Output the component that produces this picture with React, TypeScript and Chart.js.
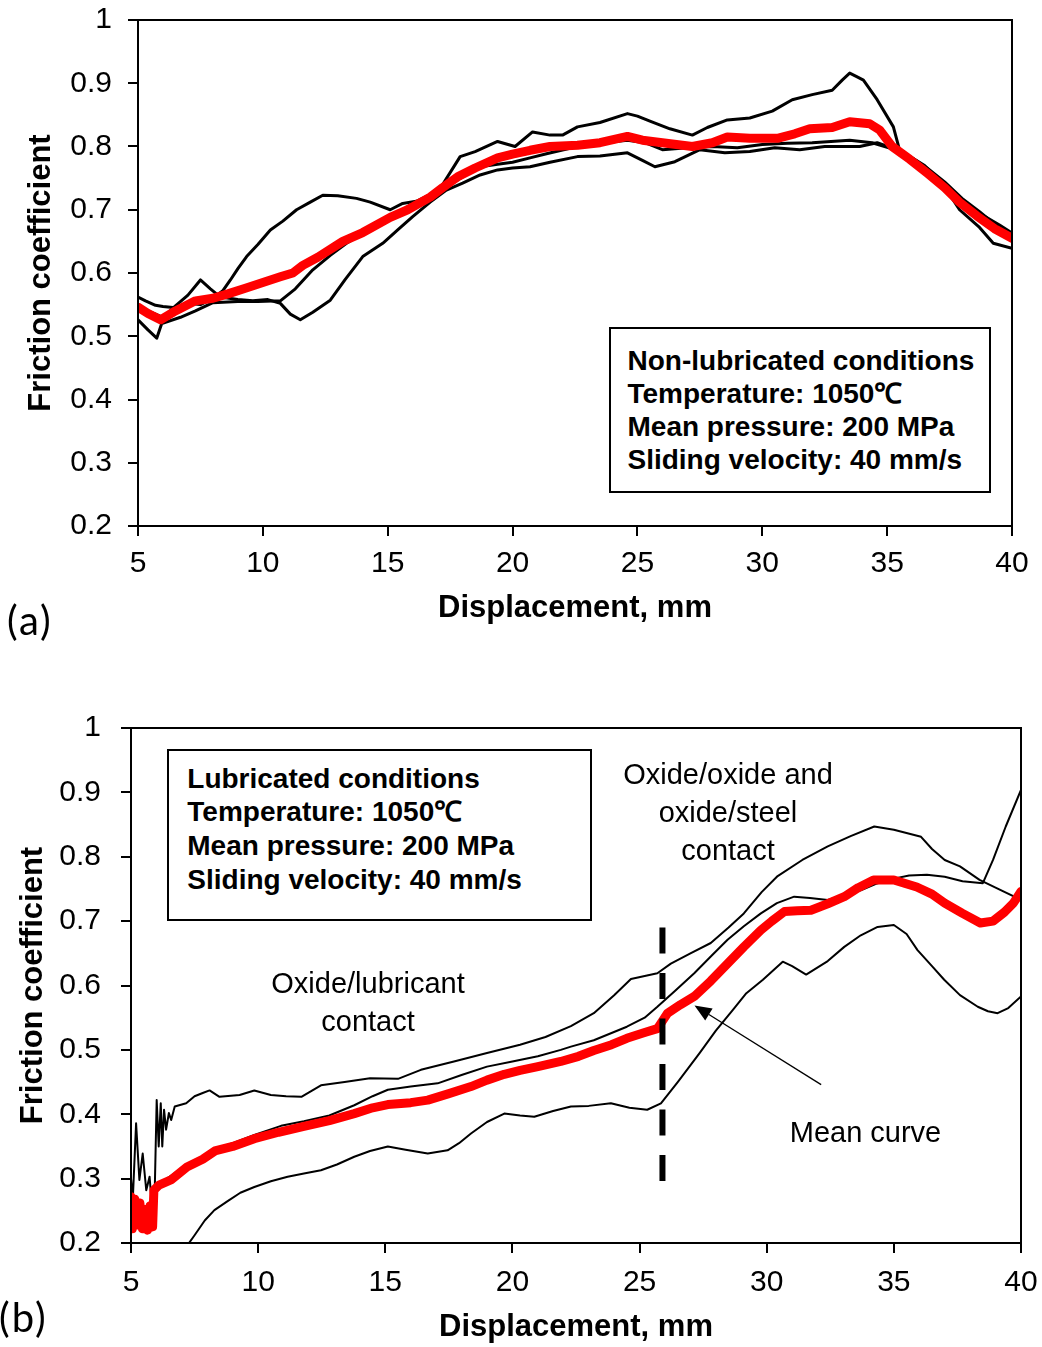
import React, { useEffect, useRef } from "react";
import { Chart, registerables } from "chart.js";

Chart.register(...registerables);

const FONT = "'Liberation Sans', Arial, Helvetica, sans-serif";

// ---------- axes ----------
const xTickValues = [5, 10, 15, 20, 25, 30, 35, 40];
const xTickLabels = ["5", "10", "15", "20", "25", "30", "35", "40"];
const yTickValues = [0.2, 0.3, 0.4, 0.5, 0.6, 0.7, 0.8, 0.9, 1.0];
const yTickLabels = ["0.2", "0.3", "0.4", "0.5", "0.6", "0.7", "0.8", "0.9", "1"];
const xTitle = "Displacement, mm";
const yTitle = "Friction coefficient";

// ---------- (a) non-lubricated ----------
const aMeanX = [5.0, 5.4, 5.9, 6.5, 7.3, 8.0, 8.6, 9.3, 10.0, 10.7, 11.2, 11.6, 12.2, 13.2, 14.0, 15.1, 15.8, 16.7, 17.2, 17.8, 18.5, 19.4, 20.0, 20.7, 21.5, 22.6, 23.5, 24.6, 25.2, 26.0, 27.2, 28.0, 28.6, 29.5, 30.6, 31.3, 31.9, 32.8, 33.5, 34.3, 34.7, 35.2, 35.9, 36.6, 37.3, 37.9, 38.6, 39.3, 40.0];
const aMeanY = [0.546, 0.536, 0.526, 0.540, 0.556, 0.560, 0.567, 0.576, 0.585, 0.594, 0.600, 0.612, 0.625, 0.650, 0.664, 0.688, 0.700, 0.720, 0.735, 0.752, 0.766, 0.782, 0.788, 0.794, 0.800, 0.802, 0.806, 0.816, 0.810, 0.806, 0.800, 0.806, 0.815, 0.813, 0.813, 0.820, 0.828, 0.830, 0.839, 0.836, 0.826, 0.800, 0.780, 0.758, 0.735, 0.712, 0.690, 0.670, 0.655];

const aRun1X = [5.0, 5.3, 5.7, 6.0, 6.5, 7.0, 7.5, 8.0, 8.4, 8.7, 9.0, 9.35, 9.8, 10.3, 10.8, 11.35, 11.9, 12.4, 13.0, 13.75, 14.3, 15.1, 15.6, 16.2, 16.7, 17.2, 17.6, 17.9, 18.5, 19.4, 20.1, 20.8, 21.5, 22.0, 22.6, 23.5, 24.6, 25.0, 25.5, 26.3, 27.2, 27.8, 28.6, 29.5, 30.4, 31.2, 32.0, 32.8, 33.2, 33.5, 33.8, 34.05, 34.6, 35.25, 35.5, 36.0, 36.6, 37.3, 38.0, 38.8, 39.5, 40.0];
const aRun1Y = [0.562, 0.556, 0.549, 0.547, 0.545, 0.552, 0.550, 0.560, 0.572, 0.589, 0.607, 0.626, 0.645, 0.668, 0.682, 0.700, 0.712, 0.723, 0.722, 0.718, 0.712, 0.700, 0.710, 0.714, 0.723, 0.740, 0.765, 0.784, 0.792, 0.808, 0.800, 0.823, 0.818, 0.818, 0.831, 0.838, 0.852, 0.848, 0.840, 0.828, 0.818, 0.830, 0.842, 0.845, 0.856, 0.874, 0.882, 0.889, 0.905, 0.916, 0.910, 0.905, 0.874, 0.831, 0.794, 0.780, 0.760, 0.738, 0.714, 0.692, 0.676, 0.663];

const aRun2X = [5.0, 5.4, 6.0, 6.5, 7.0, 7.5, 7.9, 8.3, 9.0, 9.6, 10.2, 10.7, 11.1, 11.5, 12.0, 12.7, 13.3, 14.0, 14.8, 15.4, 16.0, 16.7, 17.35, 18.0, 18.7, 19.4, 20.0, 20.7, 21.5, 22.6, 23.5, 24.6, 25.2, 25.7, 26.5, 27.5, 28.5, 29.5, 30.5, 31.5, 32.5, 33.9, 34.6, 35.3, 36.0, 36.5, 37.2, 37.9, 38.7, 39.25, 40.0];
const aRun2Y = [0.550, 0.540, 0.530, 0.548, 0.565, 0.589, 0.575, 0.562, 0.558, 0.556, 0.558, 0.552, 0.535, 0.526, 0.538, 0.557, 0.590, 0.626, 0.647, 0.668, 0.689, 0.712, 0.731, 0.742, 0.755, 0.763, 0.766, 0.768, 0.775, 0.784, 0.785, 0.790, 0.778, 0.768, 0.776, 0.795, 0.790, 0.792, 0.798, 0.795, 0.800, 0.800, 0.806, 0.796, 0.782, 0.770, 0.742, 0.700, 0.672, 0.647, 0.639];

const aRun3X = [5.0, 5.4, 5.75, 5.95, 6.7, 7.3, 8.0, 9.0, 9.8, 10.7, 11.3, 12.0, 12.7, 13.35, 14.0, 14.7, 15.4, 16.0, 16.9, 17.8, 18.7, 19.4, 20.0, 20.7, 21.4, 22.6, 23.5, 24.6, 25.3, 26.0, 27.0, 28.0, 29.0, 30.0, 31.0, 32.0, 33.5, 34.4, 35.3, 36.0, 36.6, 37.3, 38.0, 38.7, 39.4, 40.0];
const aRun3Y = [0.526, 0.510, 0.497, 0.520, 0.530, 0.540, 0.553, 0.555, 0.555, 0.556, 0.575, 0.605, 0.628, 0.647, 0.662, 0.678, 0.695, 0.710, 0.728, 0.747, 0.768, 0.772, 0.775, 0.782, 0.789, 0.800, 0.805, 0.810, 0.806, 0.795, 0.798, 0.800, 0.798, 0.803, 0.805, 0.806, 0.810, 0.806, 0.795, 0.782, 0.766, 0.744, 0.718, 0.697, 0.674, 0.652];

// ---------- (b) lubricated ----------
const bMeanX = [5.0, 5.05, 5.15, 5.25, 5.35, 5.45, 5.55, 5.65, 5.75, 5.85, 5.9, 6.1, 6.57, 7.2, 7.82, 8.3, 9.0, 9.85, 10.8, 11.8, 12.8, 13.78, 14.5, 15.1, 16.0, 16.67, 17.5, 18.37, 19.0, 19.68, 20.3, 21.0, 21.9, 22.6, 23.2, 23.9, 24.5, 25.2, 25.7, 26.1, 26.6, 27.15, 27.8, 28.46, 29.1, 29.77, 30.2, 30.7, 31.2, 31.74, 32.4, 33.05, 33.6, 34.2, 35.0, 35.9, 36.5, 37.0, 37.7, 38.4, 38.9, 39.35, 39.7, 40.0];
const bMeanY = [0.272, 0.222, 0.268, 0.228, 0.262, 0.222, 0.252, 0.220, 0.258, 0.225, 0.282, 0.290, 0.298, 0.318, 0.330, 0.343, 0.350, 0.362, 0.372, 0.381, 0.390, 0.401, 0.410, 0.415, 0.418, 0.422, 0.432, 0.443, 0.453, 0.462, 0.468, 0.474, 0.482, 0.490, 0.499, 0.508, 0.518, 0.527, 0.533, 0.557, 0.570, 0.583, 0.607, 0.634, 0.660, 0.686, 0.700, 0.715, 0.716, 0.717, 0.727, 0.738, 0.752, 0.764, 0.764, 0.753, 0.742, 0.728, 0.712, 0.697, 0.700, 0.714, 0.728, 0.746];

const bRun1X = [5.0, 5.07, 5.2, 5.33, 5.46, 5.6, 5.73, 5.82, 5.92, 6.01, 6.09, 6.17, 6.23, 6.3, 6.38, 6.49, 6.58, 6.72, 7.17, 7.5, 7.82, 8.09, 8.48, 9.27, 9.85, 10.5, 11.1, 11.7, 12.47, 13.4, 14.4, 15.5, 16.4, 17.7, 19.0, 20.3, 21.3, 22.3, 23.2, 24.0, 24.66, 25.7, 26.23, 27.0, 27.8, 28.5, 29.1, 29.8, 30.43, 31.4, 32.4, 33.3, 34.23, 35.0, 36.07, 36.5, 37.0, 37.6, 38.37, 39.0, 40.0];
const bRun1Y = [0.300, 0.267, 0.386, 0.298, 0.339, 0.282, 0.303, 0.259, 0.256, 0.422, 0.350, 0.417, 0.350, 0.407, 0.376, 0.402, 0.391, 0.412, 0.417, 0.428, 0.433, 0.437, 0.427, 0.430, 0.437, 0.430, 0.428, 0.427, 0.445, 0.450, 0.456, 0.455, 0.469, 0.482, 0.495, 0.508, 0.520, 0.537, 0.557, 0.585, 0.610, 0.619, 0.634, 0.650, 0.666, 0.690, 0.712, 0.745, 0.770, 0.795, 0.816, 0.832, 0.847, 0.842, 0.831, 0.812, 0.795, 0.785, 0.764, 0.752, 0.733];

const bRun2X = [5.9, 6.1, 6.6, 7.2, 7.8, 8.3, 9.0, 9.85, 10.9, 11.8, 12.8, 13.78, 14.5, 15.1, 16.0, 17.06, 18.0, 19.0, 20.0, 21.0, 21.9, 22.3, 23.2, 24.5, 25.2, 25.7, 26.4, 27.15, 27.8, 28.46, 29.1, 29.77, 30.4, 31.08, 31.7, 32.4, 33.0, 33.7, 34.3, 35.0, 35.6, 36.3, 37.0, 37.7, 38.5, 38.9, 39.4, 40.0];
const bRun2Y = [0.262, 0.292, 0.305, 0.322, 0.334, 0.347, 0.355, 0.368, 0.382, 0.389, 0.398, 0.414, 0.428, 0.438, 0.443, 0.448, 0.461, 0.474, 0.482, 0.490, 0.500, 0.505, 0.515, 0.536, 0.550, 0.567, 0.592, 0.619, 0.645, 0.671, 0.692, 0.712, 0.728, 0.738, 0.736, 0.733, 0.740, 0.748, 0.758, 0.766, 0.771, 0.772, 0.769, 0.762, 0.759, 0.795, 0.847, 0.904];

const bRun3X = [7.1, 7.5, 7.9, 8.28, 8.8, 9.3, 9.85, 10.5, 11.16, 11.8, 12.47, 13.1, 13.78, 14.4, 15.1, 15.8, 16.67, 17.45, 17.9, 18.37, 19.0, 19.68, 20.3, 20.86, 21.6, 22.3, 23.0, 23.87, 24.6, 25.3, 25.84, 26.5, 27.36, 28.0, 28.67, 29.2, 29.85, 30.63, 31.0, 31.55, 32.4, 33.05, 33.7, 34.36, 35.0, 35.5, 35.93, 36.5, 36.98, 37.6, 38.3, 38.7, 39.08, 39.5, 40.0];
const bRun3Y = [0.190, 0.212, 0.235, 0.251, 0.265, 0.278, 0.287, 0.296, 0.303, 0.308, 0.313, 0.322, 0.334, 0.343, 0.350, 0.345, 0.339, 0.344, 0.355, 0.370, 0.388, 0.401, 0.398, 0.396, 0.405, 0.412, 0.413, 0.417, 0.410, 0.407, 0.417, 0.450, 0.495, 0.530, 0.562, 0.588, 0.609, 0.637, 0.630, 0.617, 0.638, 0.660, 0.678, 0.691, 0.694, 0.680, 0.655, 0.630, 0.609, 0.585, 0.567, 0.560, 0.557, 0.565, 0.583];

// transition marker and arrow (data coordinates)
const transitionX = [25.9, 25.9];
const transitionY = [0.69, 0.295];
const arrowFrom = { x: 32.14, y: 0.446 };
const arrowTo = { x: 27.16, y: 0.569 };

// ---------- annotation texts ----------
const boxAText = ["Non-lubricated conditions", "Temperature: 1050\u2103", "Mean pressure: 200 MPa", "Sliding velocity: 40 mm/s"];
const boxBText = ["Lubricated conditions", "Temperature: 1050\u2103", "Mean pressure: 200 MPa", "Sliding velocity: 40 mm/s"];

function pts(xs: number[], ys: number[]) {
  return xs.map((x, i) => ({ x, y: ys[i] }));
}

const framePlugin = {
  id: "frame",
  afterDatasetsDraw(chart: any) {
    const { ctx, chartArea } = chart;
    const { left, top, right, bottom } = chartArea;
    ctx.save();
    ctx.strokeStyle = "#000";
    ctx.lineWidth = 2;
    ctx.strokeRect(left, top, right - left, bottom - top);
    ctx.restore();
  },
};

function makeArrowPlugin(from: { x: number; y: number }, to: { x: number; y: number }) {
  return {
    id: "arrow",
    afterDatasetsDraw(chart: any) {
      const { ctx, scales } = chart;
      const x1 = scales.x.getPixelForValue(from.x);
      const y1 = scales.y.getPixelForValue(from.y);
      const x2 = scales.x.getPixelForValue(to.x);
      const y2 = scales.y.getPixelForValue(to.y);
      const ang = Math.atan2(y2 - y1, x2 - x1);
      const headLen = 17;
      const headHalf = 7;
      const bx = x2 - headLen * Math.cos(ang);
      const by = y2 - headLen * Math.sin(ang);
      ctx.save();
      ctx.strokeStyle = "#000";
      ctx.fillStyle = "#000";
      ctx.lineWidth = 1.3;
      ctx.beginPath();
      ctx.moveTo(x1, y1);
      ctx.lineTo(bx, by);
      ctx.stroke();
      ctx.beginPath();
      ctx.moveTo(x2, y2);
      ctx.lineTo(bx + headHalf * Math.sin(ang), by - headHalf * Math.cos(ang));
      ctx.lineTo(bx - headHalf * Math.sin(ang), by + headHalf * Math.cos(ang));
      ctx.closePath();
      ctx.fill();
      ctx.restore();
    },
  };
}

type ChartProps = {
  top: number;
  height: number;
  datasets: any[];
  padTop: number;
  padRight: number;
  yAxisWidth: number;
  xAxisHeight: number;
  yTitlePad: number;
  xTitlePad: number;
  yTickPad: number;
  xTickPad: number;
  plugins: any[];
};

function zeroPad(s: any) {
  s.paddingTop = 0;
  s.paddingBottom = 0;
  s.paddingLeft = 0;
  s.paddingRight = 0;
}

function FrictionChart(p: ChartProps) {
  const ref = useRef<HTMLCanvasElement | null>(null);
  useEffect(() => {
    if (!ref.current) return;
    const grid = {
      display: true,
      drawOnChartArea: false,
      drawTicks: true,
      tickLength: 10,
      tickWidth: 2,
      tickColor: "#000",
      color: "#000",
      lineWidth: 2,
    };
    const chart = new Chart(ref.current, {
      type: "line",
      data: { datasets: p.datasets },
      options: {
        responsive: false,
        animation: false,
        devicePixelRatio: 1,
        layout: { padding: { top: p.padTop, right: p.padRight, left: 0, bottom: 0 } },
        plugins: { legend: { display: false }, tooltip: { enabled: false } },
        elements: { point: { radius: 0 }, line: { tension: 0 } },
        scales: {
          x: {
            type: "linear",
            min: 5,
            max: 40,
            border: { display: false },
            grid,
            afterBuildTicks: (s: any) => {
              s.ticks = xTickValues.map((v) => ({ value: v }));
            },
            afterFit: (s: any) => {
              s.height = p.xAxisHeight;
              zeroPad(s);
            },
            ticks: {
              color: "#000",
              font: { family: FONT, size: 30 },
              padding: p.xTickPad,
              maxRotation: 0,
              autoSkip: false,
              callback: (_v: any, i: number) => xTickLabels[i],
            },
            title: {
              display: true,
              text: xTitle,
              color: "#000",
              font: { family: FONT, size: 31, weight: "bold" },
              padding: { top: 0, bottom: p.xTitlePad },
            },
          },
          y: {
            type: "linear",
            min: 0.2,
            max: 1,
            border: { display: false },
            grid,
            afterBuildTicks: (s: any) => {
              s.ticks = yTickValues.map((v) => ({ value: v }));
            },
            afterFit: (s: any) => {
              s.width = p.yAxisWidth;
              zeroPad(s);
            },
            ticks: {
              color: "#000",
              font: { family: FONT, size: 30 },
              padding: p.yTickPad,
              autoSkip: false,
              callback: (_v: any, i: number) => yTickLabels[i],
            },
            title: {
              display: true,
              text: yTitle,
              color: "#000",
              font: { family: FONT, size: 31, weight: "bold" },
              padding: { top: p.yTitlePad, bottom: 0 },
            },
          },
        },
      } as any,
      plugins: [framePlugin, ...p.plugins],
    });
    return () => chart.destroy();
  }, []);
  return (
    <canvas
      ref={ref}
      width={1042}
      height={p.height}
      style={{ position: "absolute", left: 0, top: p.top, width: 1042, height: p.height }}
    />
  );
}

const blackLine = (data: any[], w: number) => ({
  data,
  borderColor: "#000",
  borderWidth: w,
  pointRadius: 0,
  fill: false,
  borderJoinStyle: "round",
});

const redLine = (data: any[]) => ({
  data,
  borderColor: "#ff0000",
  borderWidth: 9,
  pointRadius: 0,
  fill: false,
  borderJoinStyle: "round",
  borderCapStyle: "round",
});

const datasetsA = [
  redLine(pts(aMeanX, aMeanY)),
  blackLine(pts(aRun1X, aRun1Y), 3),
  blackLine(pts(aRun2X, aRun2Y), 3),
  blackLine(pts(aRun3X, aRun3Y), 3),
];

const datasetsB = [
  {
    data: pts(transitionX, transitionY),
    borderColor: "#000",
    borderWidth: 6,
    borderDash: [26, 19.5],
    borderCapStyle: "butt",
    pointRadius: 0,
    fill: false,
  },
  redLine(pts(bMeanX, bMeanY)),
  blackLine(pts(bRun1X, bRun1Y), 2),
  blackLine(pts(bRun2X, bRun2Y), 2),
  blackLine(pts(bRun3X, bRun3Y), 2),
];

const boxStyle = (left: number, top: number, width: number, height: number, padTop: number, padLeft: number, lh: number): React.CSSProperties => ({
  position: "absolute",
  left,
  top,
  width,
  height,
  boxSizing: "border-box",
  border: "2px solid #000",
  background: "#fff",
  paddingTop: padTop,
  paddingLeft: padLeft,
  fontFamily: FONT,
  fontWeight: "bold",
  fontSize: 28,
  lineHeight: lh + "px",
  whiteSpace: "nowrap",
  color: "#000",
});

const labelStyle = (cx: number, top: number): React.CSSProperties => ({
  position: "absolute",
  left: cx - 160,
  top,
  width: 320,
  textAlign: "center",
  fontFamily: FONT,
  fontSize: 29,
  lineHeight: "38px",
  color: "#000",
  whiteSpace: "pre",
});

const panelStyle = (left: number, top: number): React.CSSProperties => ({
  position: "absolute",
  left,
  top,
  fontFamily: "Lato, 'Open Sans', sans-serif",
  fontSize: 40,
  letterSpacing: "2px",
  lineHeight: "40px",
  color: "#000",
  whiteSpace: "nowrap",
});

export default function App() {
  return (
    <div style={{ position: "absolute", left: 0, top: 0, width: 1042, height: 1347, background: "#fff", overflow: "hidden" }}>
      <FrictionChart
        top={0}
        height={660}
        datasets={datasetsA}
        padTop={20}
        padRight={30}
        yAxisWidth={138}
        xAxisHeight={134}
        yTitlePad={23}
        xTitlePad={33}
        yTickPad={16}
        xTickPad={10}
        plugins={[]}
      />
      <FrictionChart
        top={680}
        height={667}
        datasets={datasetsB}
        padTop={48}
        padRight={21}
        yAxisWidth={131}
        xAxisHeight={104}
        yTitlePad={15}
        xTitlePad={1}
        yTickPad={20}
        xTickPad={12}
        plugins={[makeArrowPlugin(arrowFrom, arrowTo)]}
      />
      <div style={boxStyle(609, 327, 382, 166, 14.8, 16.5, 33)}>
        {boxAText.map((t, i) => (
          <div key={i}>{t}</div>
        ))}
      </div>
      <div style={boxStyle(167, 749, 425, 172, 10.7, 18.3, 33.7)}>
        {boxBText.map((t, i) => (
          <div key={i}>{t}</div>
        ))}
      </div>
      <div style={labelStyle(368, 963.6)}>{"Oxide/lubricant\ncontact"}</div>
      <div style={labelStyle(728, 755)}>{"Oxide/oxide and\noxide/steel\ncontact"}</div>
      <div style={labelStyle(865.5, 1112.6)}>{"Mean curve"}</div>
      <div style={panelStyle(7, 600)}>(a)</div>
      <div style={panelStyle(-1, 1297)}>(b)</div>
    </div>
  );
}
